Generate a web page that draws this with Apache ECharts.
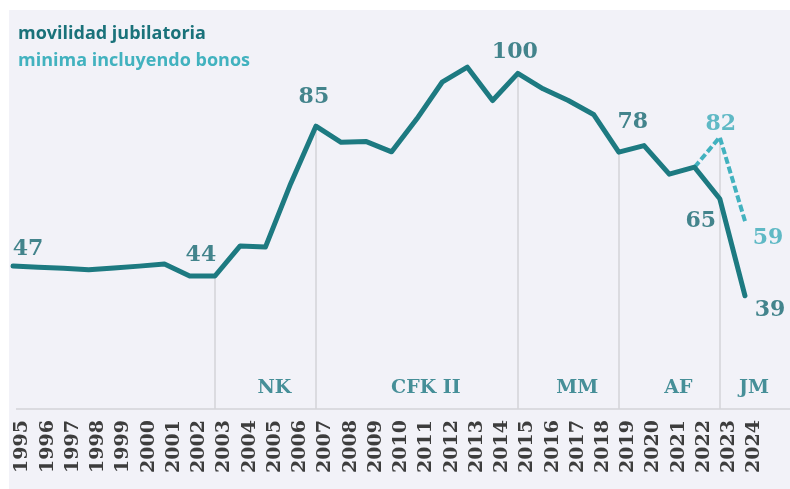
<!DOCTYPE html>
<html>
<head>
<meta charset="utf-8">
<script src="https://cdn.jsdelivr.net/npm/echarts@6/dist/echarts.min.js"></script>
<style>
  html, body { margin: 0; padding: 0; background: #ffffff; }
  #bg { position: absolute; left: 9px; top: 10px; right: 0; bottom: 0; background: #f2f2f8; }
  #chart { position: absolute; left: 0; top: 0; width: 790px; height: 489px; }
</style>
</head>
<body>
<div id="bg"></div>
<div id="chart"></div>
<script>
// movilidad jubilatoria, indice (2015 = 100)
const years = [1995, 1996, 1997, 1998, 1999, 2000, 2001, 2002, 2003, 2004,
  2005, 2006, 2007, 2008, 2009, 2010, 2011, 2012, 2013, 2014,
  2015, 2016, 2017, 2018, 2019, 2020, 2021, 2022, 2023, 2024]
const movilidad = [47, 46.7, 46.4, 46.0, 46.5, 47.0, 47.6, 44.3, 44.3, 52.5,
  52.2, 69.5, 85.2, 80.8, 81.0, 78.2, 87.2, 97.2, 101.3, 92.2,
  99.6, 95.4, 92.2, 88.4, 78.1, 79.9, 72.1, 74.0, 65.4, 38.9]

// minima incluyendo bonos (solo ultimos años)
const bonosYears = [2022, 2023, 2024]
const bonos = [74.0, 82.2, 59.3]

// años con el valor rotulado
const movilidadLabelYears = [1995, 2003, 2007, 2015, 2019, 2023, 2024]
const bonosLabelYears = [2023, 2024]

// gobiernos: inicio y fin (fin exclusivo)
const termNames = ['NK', 'CFK II', 'MM', 'AF', 'JM']
const termStarts = [2003, 2007, 2015, 2019, 2023]
const termEnds = [2007, 2015, 2019, 2023, 2025]

const yMin = 8
const yMax = 115

const dark = '#1d7a81'
const light = '#42b2bf'
const slab = '"DejaVu Serif", serif'

// posicion de cada rotulo respecto de su punto
const labelOffsets = {
  main: { 1995: [15, -17], 2003: [-14, -21], 2007: [-2, -29], 2015: [-3, -21],
    2019: [14, -30], 2023: [-19, 23], 2024: [25, 14] },
  bonos: { 2023: [1, -13], 2024: [23, 17] }
}

const valueAt = (y) => {
  const i = years.indexOf(y)
  const j = bonosYears.indexOf(y)
  return j >= 0 ? Math.max(movilidad[i], bonos[j]) : movilidad[i]
}

const chart = echarts.init(document.getElementById('chart'))

const labelPoints = (ys, list, src, key, color) => ys.map(y => ({
  value: [y, src[list.indexOf(y)]],
  label: { offset: labelOffsets[key][y], color: color }
}))

const option = {
  animation: false,
  backgroundColor: 'transparent',
  legend: {
    orient: 'vertical',
    left: 7,
    top: 20,
    itemWidth: 0,
    itemHeight: 0,
    itemGap: 9,
    selectedMode: false,
    textStyle: { fontFamily: '"Open Sans"', fontWeight: 'bold', fontSize: 18 },
    data: [
      { name: 'movilidad jubilatoria', textStyle: { color: '#1a727a' } },
      { name: 'minima incluyendo bonos', textStyle: { color: light } }
    ]
  },
  grid: { left: 13, right: 45, top: 17, bottom: 80 },
  xAxis: {
    type: 'value',
    min: 1995,
    max: 2024,
    interval: 1,
    axisLine: { show: false },
    axisTick: { show: false },
    splitLine: { show: false },
    axisLabel: {
      rotate: 90,
      margin: 11,
      verticalAlign: 'top',
      showMinLabel: true,
      showMaxLabel: true,
      formatter: v => String(v),
      color: '#3d3d3d',
      fontFamily: slab,
      fontWeight: 'bold',
      fontSize: 19
    }
  },
  yAxis: {
    type: 'value',
    min: yMin,
    max: yMax,
    show: false
  },
  series: [
    {
      name: 'gobiernos',
      type: 'line',
      data: [],
      silent: true,
      markLine: {
        z: 1,
        silent: true,
        symbol: ['none', 'none'],
        label: { show: false },
        lineStyle: { color: '#d3d3d9', width: 1.5, type: 'solid' },
        data: termStarts.map(s => [{ coord: [s, valueAt(s)] }, { coord: [s, yMin] }])
      }
    },
    {
      name: 'minima incluyendo bonos',
      type: 'line',
      z: 2,
      data: bonosYears.map((y, i) => [y, bonos[i]]),
      symbol: 'none',
      itemStyle: { color: light },
      lineStyle: { color: light, width: 4, type: [7, 3] }
    },
    {
      name: 'movilidad jubilatoria',
      type: 'line',
      z: 3,
      data: years.map((y, i) => [y, movilidad[i]]),
      symbol: 'none',
      itemStyle: { color: dark },
      lineStyle: { color: dark, width: 5, cap: 'round', join: 'round' }
    },
    {
      name: 'rotulos',
      type: 'scatter',
      z: 4,
      silent: true,
      clip: false,
      symbolSize: 0,
      itemStyle: { color: 'transparent' },
      label: {
        show: true,
        position: 'inside',
        formatter: p => Math.round(p.value[1]),
        fontFamily: slab,
        fontWeight: 'bold',
        fontSize: 22
      },
      data: labelPoints(movilidadLabelYears, years, movilidad, 'main', '#166870')
        .concat(labelPoints(bonosLabelYears, bonosYears, bonos, 'bonos', '#3aaab8'))
    },
    {
      name: 'nombres',
      type: 'scatter',
      z: 4,
      silent: true,
      clip: false,
      symbolSize: 0,
      itemStyle: { color: 'transparent' },
      label: {
        show: true,
        position: 'inside',
        offset: [9, -21],
        formatter: p => p.name,
        color: '#1a7680',
        fontFamily: slab,
        fontWeight: 'bold',
        fontSize: 19
      },
      data: termNames.map((n, i) => ({ name: n, value: [(termStarts[i] + termEnds[i]) / 2, yMin] }))
    }
  ]
}

chart.setOption(option)

// linea base que cruza todo el ancho
const baseY = chart.convertToPixel({ yAxisIndex: 0 }, yMin)
chart.setOption({
  graphic: [{
    type: 'line',
    z: 0,
    silent: true,
    shape: { x1: 16, y1: baseY, x2: chart.getWidth(), y2: baseY },
    style: { stroke: '#d3d3d9', lineWidth: 1.5 }
  }]
})
</script>
</body>
</html>
